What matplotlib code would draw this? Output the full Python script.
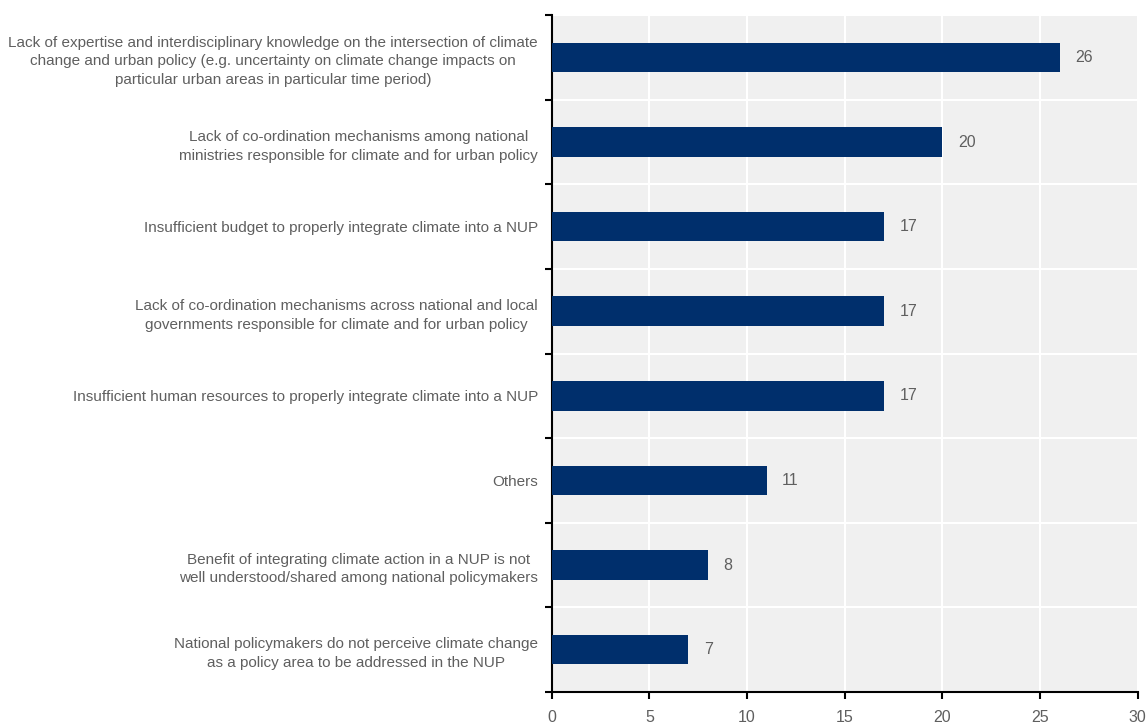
import matplotlib
matplotlib.use("Agg")
import matplotlib.pyplot as plt
from matplotlib.ticker import FixedLocator

plt.rcParams["font.family"] = ["Liberation Sans Narrow", "Liberation Sans", "DejaVu Sans"]

categories = [
    "Lack of expertise and interdisciplinary knowledge on the intersection of climate\n"
    "change and urban policy (e.g. uncertainty on climate change impacts on\n"
    "particular urban areas in particular time period)",
    "Lack of co-ordination mechanisms among national\n"
    "ministries responsible for climate and for urban policy",
    "Insufficient budget to properly integrate climate into a NUP",
    "Lack of co-ordination mechanisms across national and local\n"
    "governments responsible for climate and for urban policy",
    "Insufficient human resources to properly integrate climate into a NUP",
    "Others",
    "Benefit of integrating climate action in a NUP is not\n"
    "well understood/shared among national policymakers",
    "National policymakers do not perceive climate change\n"
    "as a policy area to be addressed in the NUP",
]
values = [26, 20, 17, 17, 17, 11, 8, 7]
xticks = [0, 5, 10, 15, 20, 25, 30]

bar_color = "#002F6C"
text_grey = "#5F5F5F"

fig = plt.figure(figsize=(11.47, 7.23), dpi=100)
ax = fig.add_axes([0.481, 0.043, 0.511, 0.936])
ax.set_facecolor("#F0F0F0")

n = len(categories)
ypos = list(range(n))
ax.barh(ypos, values, height=0.35, color=bar_color, zorder=3)
for y, v in zip(ypos, values):
    ax.text(v + 0.8, y, str(v), va="center", ha="left", fontsize=11.5, color=text_grey, zorder=4)

ax.set_xlim(0, 30)
ax.set_ylim(n - 0.5, -0.5)
ax.set_xticks(xticks)
ax.set_yticks(ypos)
ax.set_yticklabels(categories, fontsize=11, color=text_grey, ha="right",
                   multialignment="center", linespacing=1.45)
ax.tick_params(axis="y", length=0, pad=10)
ax.yaxis.set_minor_locator(FixedLocator([i - 0.5 for i in range(n + 1)]))
ax.tick_params(axis="y", which="minor", length=5, width=1.5, color="black", direction="out")
ax.tick_params(axis="x", length=5, width=1.5, direction="out", colors="black",
               labelcolor=text_grey, labelsize=11.5, pad=8)

ax.grid(axis="x", color="white", linewidth=1.5, zorder=1)
ax.grid(axis="y", which="minor", color="white", linewidth=1.5, zorder=1)
ax.set_axisbelow(True)

for s in ["top", "right"]:
    ax.spines[s].set_visible(False)
for s in ["left", "bottom"]:
    ax.spines[s].set_linewidth(1.5)
    ax.spines[s].set_color("black")

fig.savefig("out.png", dpi=100)
